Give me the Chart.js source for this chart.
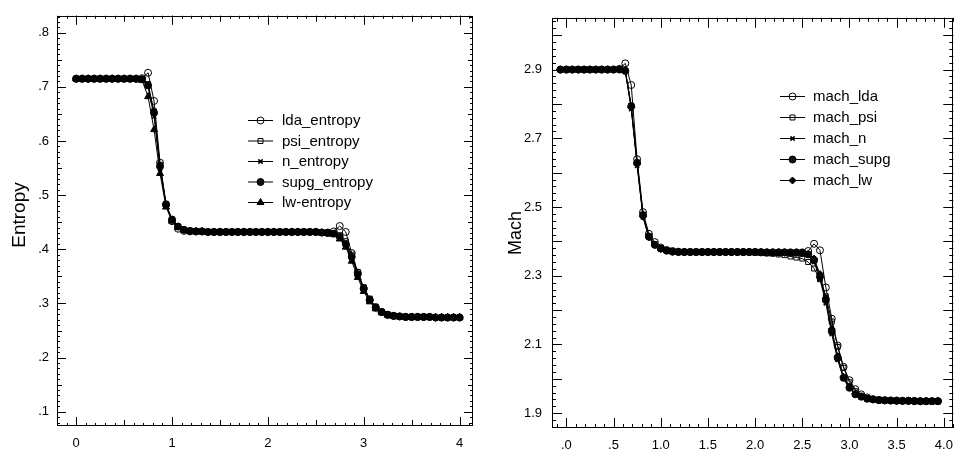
<!DOCTYPE html>
<html><head><meta charset="utf-8">
<script src="https://cdn.jsdelivr.net/npm/chart.js@4.4.1/dist/chart.umd.min.js"></script>
<style>
html,body{margin:0;padding:0;background:#fff;}
#wrap{position:relative;width:963px;height:449px;overflow:hidden;background:#fff;}
canvas{position:absolute;top:0;}
</style></head><body>
<div id="wrap">
<canvas id="c1" width="480" height="449" style="left:0;width:480px;height:449px"></canvas>
<canvas id="c2" width="483" height="449" style="left:480px;width:483px;height:449px"></canvas>
</div>
<script>
// ---------- DATA ----------
const entropyX = [0,0.0625,0.125,0.1875,0.25,0.3125,0.375,0.4375,0.5,0.5625,
 0.625,0.6875,0.75,0.8125,0.875,0.9375,1,1.0625,1.125,1.1875,
 1.25,1.3125,1.375,1.4375,1.5,1.5625,1.625,1.6875,1.75,1.8125,
 1.875,1.9375,2,2.0625,2.125,2.1875,2.25,2.3125,2.375,2.4375,
 2.5,2.5625,2.625,2.6875,2.75,2.8125,2.875,2.9375,3,3.0625,
 3.125,3.1875,3.25,3.3125,3.375,3.4375,3.5,3.5625,3.625,3.6875,
 3.75,3.8125,3.875,3.9375,4];

const ldaEntropy = [.715,.715,.715,.715,.715,.715,.715,.715,.715,.715,
 .715,.716,.726,.674,.560,.482,.452,.438,.434,.433,
 .433,.433,.432,.432,.432,.432,.432,.432,.432,.432,
 .432,.432,.432,.432,.432,.432,.432,.432,.432,.432,
 .432,.431,.431,.433,.443,.432,.393,.357,.327,.306,
 .292,.284,.279,.277,.276,.275,.275,.275,.275,.275,
 .274,.274,.274,.274,.274];
const psiEntropy = [.715,.715,.715,.715,.715,.715,.715,.715,.715,.715,
 .715,.714,.705,.655,.556,.484,.455,.442,.436,.434,
 .433,.433,.432,.432,.432,.432,.432,.432,.432,.432,
 .432,.432,.432,.432,.432,.432,.432,.432,.432,.432,
 .432,.431,.431,.430,.426,.415,.390,.358,.330,.309,
 .294,.285,.280,.277,.276,.275,.275,.275,.275,.275,
 .274,.274,.274,.274,.274];
const nEntropy = [.715,.715,.715,.715,.715,.715,.715,.715,.715,.715,
 .715,.713,.700,.645,.548,.482,.454,.441,.435,.433,
 .433,.433,.432,.432,.432,.432,.432,.432,.432,.432,
 .432,.432,.432,.432,.432,.432,.432,.432,.432,.432,
 .431,.430,.429,.428,.421,.408,.383,.352,.326,.306,
 .292,.284,.279,.277,.276,.275,.275,.275,.275,.275,
 .274,.274,.274,.274,.274];
const supgEntropy = [.715,.715,.715,.715,.715,.715,.715,.715,.715,.715,
 .715,.714,.703,.652,.553,.483,.455,.442,.436,.434,
 .433,.433,.432,.432,.432,.432,.432,.432,.432,.432,
 .432,.432,.432,.432,.432,.432,.432,.432,.432,.432,
 .432,.431,.430,.429,.423,.410,.386,.354,.328,.307,
 .293,.284,.279,.277,.276,.275,.275,.275,.275,.275,
 .274,.274,.274,.274,.274];
const lwEntropy = [.715,.715,.715,.715,.715,.715,.715,.715,.715,.715,
 .715,.712,.682,.621,.540,.478,.452,.440,.435,.433,
 .433,.433,.432,.432,.432,.432,.432,.432,.432,.432,
 .432,.432,.432,.432,.432,.432,.432,.432,.432,.432,
 .431,.430,.429,.427,.419,.404,.378,.348,.322,.303,
 .290,.283,.278,.276,.275,.275,.275,.275,.275,.275,
 .274,.274,.274,.274,.274];

const machX = [-0.0625,0,0.0625,0.125,0.1875,0.25,0.3125,0.375,0.4375,0.5,
 0.5625,0.625,0.6875,0.75,0.8125,0.875,0.9375,1,1.0625,1.125,
 1.1875,1.25,1.3125,1.375,1.4375,1.5,1.5625,1.625,1.6875,1.75,
 1.8125,1.875,1.9375,2,2.0625,2.125,2.1875,2.25,2.3125,2.375,
 2.4375,2.5,2.5625,2.625,2.6875,2.75,2.8125,2.875,2.9375,3,
 3.0625,3.125,3.1875,3.25,3.3125,3.375,3.4375,3.5,3.5625,3.625,
 3.6875,3.75,3.8125,3.875,3.9375];

const machLda = [2.9,2.9,2.9,2.9,2.9,2.9,2.9,2.9,2.9,2.9,
 2.902,2.918,2.855,2.639,2.485,2.422,2.398,2.382,2.375,2.372,
 2.370,2.369,2.369,2.369,2.369,2.369,2.369,2.369,2.369,2.369,
 2.369,2.369,2.369,2.369,2.369,2.368,2.368,2.368,2.368,2.368,
 2.368,2.368,2.372,2.393,2.374,2.266,2.175,2.097,2.035,1.996,
 1.970,1.955,1.946,1.941,1.939,1.938,1.937,1.937,1.936,1.936,
 1.936,1.935,1.935,1.935,1.935];
const machPsi = [2.9,2.9,2.9,2.9,2.9,2.9,2.9,2.9,2.9,2.9,
 2.9,2.897,2.795,2.630,2.478,2.415,2.392,2.380,2.374,2.371,
 2.369,2.369,2.369,2.369,2.369,2.369,2.369,2.369,2.369,2.369,
 2.369,2.368,2.368,2.367,2.366,2.365,2.364,2.362,2.360,2.356,
 2.353,2.350,2.340,2.321,2.290,2.240,2.167,2.093,2.032,1.990,
 1.964,1.951,1.944,1.940,1.938,1.937,1.937,1.936,1.936,1.936,
 1.935,1.935,1.935,1.935,1.935];
const machN = [2.9,2.9,2.9,2.9,2.9,2.9,2.9,2.9,2.9,2.9,
 2.9,2.894,2.785,2.620,2.470,2.410,2.388,2.378,2.373,2.370,
 2.369,2.369,2.369,2.369,2.369,2.369,2.369,2.369,2.369,2.369,
 2.369,2.369,2.369,2.369,2.368,2.368,2.368,2.368,2.368,2.367,
 2.367,2.366,2.360,2.340,2.290,2.220,2.130,2.055,2.000,1.972,
 1.954,1.947,1.942,1.940,1.938,1.937,1.937,1.936,1.936,1.936,
 1.935,1.935,1.935,1.935,1.935];
const machSupg = [2.9,2.9,2.9,2.9,2.9,2.9,2.9,2.9,2.9,2.9,
 2.9,2.896,2.793,2.628,2.476,2.414,2.390,2.379,2.373,2.370,
 2.369,2.369,2.369,2.369,2.369,2.369,2.369,2.369,2.369,2.369,
 2.369,2.369,2.369,2.369,2.368,2.368,2.368,2.368,2.368,2.367,
 2.367,2.366,2.362,2.345,2.297,2.229,2.138,2.061,2.003,1.974,
 1.955,1.948,1.942,1.940,1.938,1.937,1.937,1.936,1.936,1.936,
 1.935,1.935,1.935,1.935,1.935];
const machLw = [2.9,2.9,2.9,2.9,2.9,2.9,2.9,2.9,2.9,2.9,
 2.9,2.896,2.790,2.625,2.472,2.412,2.389,2.378,2.373,2.370,
 2.369,2.369,2.369,2.369,2.369,2.369,2.369,2.369,2.369,2.369,
 2.369,2.369,2.369,2.369,2.368,2.368,2.368,2.368,2.368,2.368,
 2.368,2.367,2.363,2.350,2.305,2.235,2.145,2.066,2.006,1.976,
 1.957,1.949,1.943,1.940,1.938,1.937,1.937,1.936,1.936,1.936,
 1.935,1.935,1.935,1.935,1.935];

const entropyXTicks = [0,1,2,3,4];
const entropyYTicks = [0.1,0.2,0.3,0.4,0.5,0.6,0.7,0.8];
const machXTicks = [0,0.5,1,1.5,2,2.5,3,3.5,4];
const machYTicks = [1.9,2.1,2.3,2.5,2.7,2.9];

const entropyLabels = ['lda_entropy','psi_entropy','n_entropy','supg_entropy','lw-entropy'];
const machLabels = ['mach_lda','mach_psi','mach_n','mach_supg','mach_lw'];

// ---------- HELPERS ----------
const FONT = "'Liberation Sans', Arial, Helvetica, sans-serif";
const INK = '#000';
function pts(xs, ys){ return xs.map((x,i)=>({x:x, y:ys[i]})); }

const styles = {
  lda:  {pointStyle:'circle',   pointRadius:3.5, pointBackgroundColor:'rgba(0,0,0,0)', pointBorderWidth:1},
  psi:  {pointStyle:'rect',     pointRadius:3.5, pointBackgroundColor:'rgba(0,0,0,0)', pointBorderWidth:1},
  n:    {pointStyle:'crossRot', pointRadius:3,   pointBackgroundColor:INK, pointBorderWidth:1.5},
  supg: {pointStyle:'circle',   pointRadius:3.5, pointBackgroundColor:'#111', pointBorderWidth:1},
  lwT:  {pointStyle:'triangle', pointRadius:4,   pointBackgroundColor:INK, pointBorderWidth:1},
  lwD:  {pointStyle:'rectRot',  pointRadius:3.5, pointBackgroundColor:INK, pointBorderWidth:1}
};
function ds(label, xs, ys, st){
  return Object.assign({label:label, data:pts(xs,ys), borderColor:INK, borderWidth:1,
    pointBorderColor:INK, tension:0, fill:false}, st);
}

const frameTicks = {
  id:'frameTicks',
  afterDraw(chart, args, o){
    const {ctx, chartArea:a, scales} = chart;
    ctx.save();
    ctx.strokeStyle = INK; ctx.lineWidth = 1;
    ctx.strokeRect(Math.round(a.left)+0.5, Math.round(a.top)+0.5,
      Math.round(a.right-a.left)-1, Math.round(a.bottom-a.top)-1);
    ctx.beginPath();
    (o.x||[]).forEach(sp=>{
      const s = scales.x;
      const n0 = Math.ceil(s.min/sp.step-1e-9), n1 = Math.floor(s.max/sp.step+1e-9);
      for(let n=n0;n<=n1;n++){
        const px = Math.round(s.getPixelForValue(n*sp.step))+0.5;
        ctx.moveTo(px, a.bottom); ctx.lineTo(px, a.bottom-sp.len);
        ctx.moveTo(px, a.top); ctx.lineTo(px, a.top+sp.len);
      }
    });
    (o.y||[]).forEach(sp=>{
      const s = scales.y;
      const n0 = Math.ceil(s.min/sp.step-1e-9), n1 = Math.floor(s.max/sp.step+1e-9);
      for(let n=n0;n<=n1;n++){
        const py = Math.round(s.getPixelForValue(n*sp.step))+0.5;
        ctx.moveTo(a.left, py); ctx.lineTo(a.left+sp.len, py);
        ctx.moveTo(a.right, py); ctx.lineTo(a.right-sp.len, py);
      }
    });
    ctx.stroke();
    ctx.restore();
  }
};

const boxLegend = {
  id:'boxLegend',
  afterDraw(chart, args, o){
    const ctx = chart.ctx;
    ctx.save();
    ctx.font = o.size + 'px ' + FONT;
    ctx.textBaseline = 'middle';
    ctx.textAlign = 'left';
    chart.data.datasets.forEach((d,i)=>{
      const y = o.y0 + i*o.dy;
      ctx.strokeStyle = INK; ctx.lineWidth = 1;
      ctx.beginPath(); ctx.moveTo(o.x0, y+0.5); ctx.lineTo(o.x1, y+0.5); ctx.stroke();
      ctx.fillStyle = d.pointBackgroundColor; ctx.strokeStyle = INK; ctx.lineWidth = d.pointBorderWidth;
      const xm = (o.x0+o.x1)/2;
      if (Chart.helpers && Chart.helpers.drawPoint) {
        Chart.helpers.drawPoint(ctx, {pointStyle:d.pointStyle, radius:d.pointRadius, borderWidth:d.pointBorderWidth, rotation:0}, xm, y+0.5);
      }
      ctx.fillStyle = INK;
      ctx.fillText(d.label, o.tx, y+1);
    });
    ctx.restore();
  }
};

const yTitle = {
  id:'yTitle',
  afterDraw(chart, args, o){
    const ctx = chart.ctx;
    ctx.save();
    ctx.translate(o.x, o.y); ctx.rotate(-Math.PI/2);
    ctx.font = o.size + 'px ' + FONT;
    ctx.fillStyle = INK; ctx.textAlign = 'center'; ctx.textBaseline = 'middle';
    ctx.fillText(o.text, 0, 0);
    ctx.restore();
  }
};

function makeChart(id, cfg){
  return new Chart(document.getElementById(id), {
    type:'line',
    data:{datasets:cfg.datasets},
    plugins:[frameTicks, boxLegend, yTitle],
    options:{
      responsive:false, animation:false, devicePixelRatio:1,
      layout:{padding:cfg.padding},
      plugins:{legend:{display:false}, tooltip:{enabled:false},
        frameTicks:cfg.ticks, boxLegend:cfg.legend, yTitle:cfg.title},
      scales:{
        x:{type:'linear', min:cfg.xMin, max:cfg.xMax,
          grid:{display:false, drawTicks:false}, border:{display:false},
          afterBuildTicks:s=>{ s.ticks = cfg.xTicks.map(v=>({value:v})); },
          afterFit:s=>{ s.height = cfg.xH; },
          ticks:{autoSkip:false, maxRotation:0, padding:cfg.xPad, color:INK,
            font:{family:FONT, size:13}, callback:cfg.xFmt}},
        y:{type:'linear', min:cfg.yMin, max:cfg.yMax,
          grid:{display:false, drawTicks:false}, border:{display:false},
          afterBuildTicks:s=>{ s.ticks = cfg.yTicks.map(v=>({value:v})); },
          afterFit:s=>{ s.width = cfg.yW; },
          ticks:{autoSkip:false, padding:cfg.yPad, color:INK,
            font:{family:FONT, size:13}, callback:cfg.yFmt}}
      }
    }
  });
}

makeChart('c1', {
  datasets:[
    ds(entropyLabels[0], entropyX, ldaEntropy, styles.lda),
    ds(entropyLabels[1], entropyX, psiEntropy, styles.psi),
    ds(entropyLabels[2], entropyX, nEntropy, styles.n),
    ds(entropyLabels[3], entropyX, supgEntropy, styles.supg),
    ds(entropyLabels[4], entropyX, lwEntropy, styles.lwT)
  ],
  padding:{top:15, right:7, left:0, bottom:0},
  xMin:-0.2, xMax:4.14, yMin:0.0736, yMax:0.8313,
  xTicks:entropyXTicks, yTicks:entropyYTicks,
  xH:23, yW:57, xPad:10, yPad:8,
  xFmt:v=>String(v), yFmt:v=>v.toFixed(1).replace(/^0/,''),
  ticks:{x:[{step:0.1,len:3},{step:0.5,len:6},{step:1,len:9}],
         y:[{step:0.01,len:3},{step:0.05,len:5},{step:0.1,len:9}]},
  legend:{x0:248, x1:273, tx:282, y0:120, dy:20.5, size:15},
  title:{text:'Entropy', x:20, y:215, size:19}
});

makeChart('c2', {
  datasets:[
    ds(machLabels[0], machX, machLda, styles.lda),
    ds(machLabels[1], machX, machPsi, styles.psi),
    ds(machLabels[2], machX, machN, styles.n),
    ds(machLabels[3], machX, machSupg, styles.supg),
    ds(machLabels[4], machX, machLw, styles.lwD)
  ],
  padding:{top:16, right:0, left:0, bottom:0},
  xMin:-0.152, xMax:4.1, yMin:1.857, yMax:3.0506,
  xTicks:machXTicks, yTicks:machYTicks,
  xH:21, yW:72, xPad:10, yPad:10,
  xFmt:v=>v.toFixed(1).replace(/^0/,''), yFmt:v=>v.toFixed(1),
  ticks:{x:[{step:0.1,len:4},{step:0.5,len:10}],
         y:[{step:0.02,len:4},{step:0.1,len:10}]},
  legend:{x0:300, x1:325, tx:333, y0:96, dy:21, size:15},
  title:{text:'Mach', x:36, y:233, size:18}
});
</script>
</body></html>
